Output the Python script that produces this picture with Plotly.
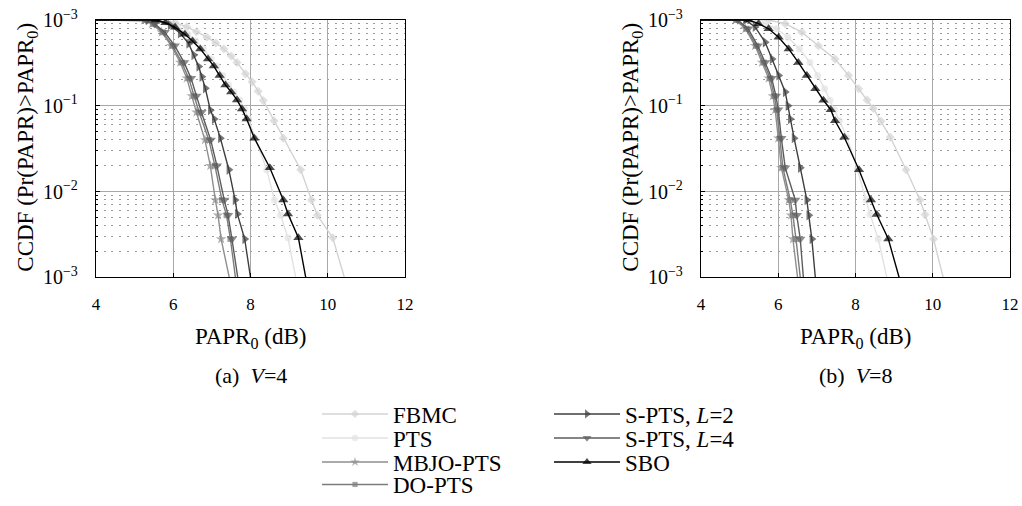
import plotly.graph_objects as go

# ---------------- data: CCDF of PAPR, V = 4 ----------------
v4_fbmc_x = [4, 5.75, 6.05, 6.35, 6.6, 6.87, 7.1, 7.31, 7.5, 7.65, 7.87, 8.04, 8.2, 8.33, 8.61, 8.85, 9.3, 9.58, 9.73, 10.13, 10.43]
v4_fbmc_y = [1, 1, 0.93, 0.83, 0.73, 0.63, 0.54, 0.46, 0.38, 0.32, 0.236, 0.19, 0.148, 0.115, 0.067, 0.042, 0.018, 0.008, 0.0053, 0.0029, 0.001]

v4_pts_x = [4, 5.6, 5.85, 6.12, 6.38, 6.58, 6.78, 6.98, 7.13, 7.28, 7.43, 7.57, 7.72, 7.84, 7.95, 8.12, 8.42, 8.62, 8.78, 8.97, 9.17]
v4_pts_y = [1, 1, 0.93, 0.82, 0.68, 0.57, 0.46, 0.35, 0.29, 0.225, 0.175, 0.145, 0.117, 0.092, 0.07, 0.042, 0.018, 0.008, 0.0053, 0.0029, 0.001]

v4_mbjo_x = [4, 5.25, 5.45, 5.7, 5.95, 6.18, 6.35, 6.48, 6.6, 6.82, 6.96, 7.09, 7.16, 7.24, 7.45]
v4_do_x = [4, 5.28, 5.48, 5.73, 5.98, 6.22, 6.4, 6.54, 6.67, 6.92, 7.08, 7.26, 7.38, 7.48, 7.61]
v4_spts4_x = [4, 5.3, 5.52, 5.78, 6.04, 6.28, 6.46, 6.6, 6.73, 6.97, 7.13, 7.32, 7.42, 7.52, 7.67]
v4_low_y = [1, 1, 0.9, 0.72, 0.5, 0.32, 0.21, 0.13, 0.084, 0.04, 0.02, 0.008, 0.0053, 0.0028, 0.001]

v4_spts2_x = [4, 5.35, 5.58, 5.92, 6.18, 6.40, 6.53, 6.66, 6.74, 6.83, 6.96, 7.06, 7.22, 7.44, 7.60, 7.66, 7.85, 8.0]
v4_spts2_y = [1, 1, 0.98, 0.87, 0.70, 0.53, 0.39, 0.286, 0.218, 0.16, 0.089, 0.07, 0.042, 0.018, 0.008, 0.0055, 0.0028, 0.001]

v4_sbo_x = [4, 5.55, 5.8, 6.05, 6.3, 6.5, 6.7, 6.9, 7.05, 7.2, 7.35, 7.5, 7.65, 7.78, 7.9, 8.1, 8.5, 8.85, 8.97, 9.24, 9.43]
v4_sbo_y = [1, 1, 0.93, 0.82, 0.68, 0.57, 0.46, 0.35, 0.29, 0.225, 0.175, 0.145, 0.117, 0.092, 0.07, 0.042, 0.019, 0.008, 0.0055, 0.0029, 0.001]

# ---------------- data: CCDF of PAPR, V = 8 ----------------
v8_fbmc_x = [4, 5.75, 6.18, 6.61, 7.04, 7.47, 7.82, 8.08, 8.3, 8.46, 8.66, 8.90, 9.31, 9.67, 9.80, 10.02, 10.27]
v8_fbmc_y = [1, 1, 0.905, 0.72, 0.5, 0.35, 0.226, 0.158, 0.117, 0.093, 0.066, 0.043, 0.018, 0.008, 0.0054, 0.0028, 0.001]

v8_pts_x = [4, 5.4, 5.68, 5.96, 6.25, 6.55, 6.82, 7.02, 7.2, 7.34, 7.45, 7.58, 7.78, 8.05, 8.28, 8.38, 8.59, 8.81]
v8_sbo_x = [4, 5.23, 5.49, 5.75, 6.01, 6.27, 6.52, 6.74, 6.96, 7.17, 7.36, 7.47, 7.71, 8.09, 8.40, 8.55, 8.85, 9.13]
v8_high_y = [1, 1, 0.905, 0.79, 0.63, 0.46, 0.32, 0.226, 0.158, 0.116, 0.09, 0.067, 0.043, 0.018, 0.008, 0.0054, 0.0028, 0.001]

v8_mbjo_x = [4, 4.89, 5.15, 5.40, 5.58, 5.75, 5.86, 5.92, 6.0, 6.08, 6.27, 6.33, 6.38, 6.50]
v8_do_x = [4, 4.92, 5.18, 5.43, 5.62, 5.79, 5.9, 5.96, 6.04, 6.12, 6.31, 6.38, 6.46, 6.57]
v8_spts4_x = [4, 4.95, 5.22, 5.47, 5.66, 5.83, 5.94, 6.0, 6.08, 6.18, 6.44, 6.48, 6.57, 6.65]
v8_low_y = [1, 1, 0.79, 0.5, 0.32, 0.21, 0.13, 0.09, 0.042, 0.019, 0.008, 0.0053, 0.0028, 0.001]

v8_spts2_x = [4, 5.15, 5.40, 5.66, 5.84, 6.01, 6.18, 6.25, 6.31, 6.41, 6.57, 6.74, 6.79, 6.87, 6.96]
v8_spts2_y = [1, 1, 0.83, 0.55, 0.35, 0.226, 0.145, 0.1, 0.07, 0.042, 0.019, 0.008, 0.0053, 0.0028, 0.001]

x_ticks = [4, 6, 8, 10, 12]
y_ticks = [1, 0.1, 0.01, 0.001]
y_tick_text = ["10<sup>−3</sup>", "10<sup>−1</sup>", "10<sup>−2</sup>", "10<sup>−3</sup>"]
y_minor = [m * d for d in (0.001, 0.01, 0.1) for m in range(2, 10)]

# ---------------- series styles (name, colour, symbol, size, legend slot) ----------------
series = [
    ("FBMC", "#d3d3d3", "diamond", 7, "legend"),
    ("PTS", "#e2e2e2", "circle", 7, "legend2"),
    ("MBJO-PTS", "#8e8e8e", "star", 8, "legend3"),
    ("DO-PTS", "#7c7c7c", "square", 6, "legend4"),
    ("S-PTS, <i>L</i>=2", "#3e3e3e", "triangle-right", 9, "legend5"),
    ("S-PTS, <i>L</i>=4", "#5c5c5c", "triangle-down", 9, "legend6"),
    ("SBO", "#000000", "triangle-up", 9, "legend7"),
]
# legend slot positions in px (left edge of the slot, row centre)
legend_pos = {
    "legend": (317, 414), "legend2": (317, 438), "legend3": (317, 462), "legend4": (317, 485),
    "legend5": (549, 414), "legend6": (549, 438), "legend7": (549, 462),
}

panels = [
    ("x", "y", [
        (v4_fbmc_x, v4_fbmc_y), (v4_pts_x, v4_pts_y), (v4_mbjo_x, v4_low_y), (v4_do_x, v4_low_y),
        (v4_spts2_x, v4_spts2_y), (v4_spts4_x, v4_low_y), (v4_sbo_x, v4_sbo_y)]),
    ("x2", "y2", [
        (v8_fbmc_x, v8_fbmc_y), (v8_pts_x, v8_high_y), (v8_mbjo_x, v8_low_y), (v8_do_x, v8_low_y),
        (v8_spts2_x, v8_spts2_y), (v8_spts4_x, v8_low_y), (v8_sbo_x, v8_high_y)]),
]

FONT = "Liberation Serif, DejaVu Serif, serif"

fig = go.Figure()
for p, (xa, ya, curves) in enumerate(panels):
    for (name, color, symbol, size, lg), (xs, ys) in zip(series, curves):
        # no marker on the flat lead-in point and on the last (bottom edge) point
        sizes = [0] + [size] * (len(xs) - 2) + [0]
        fig.add_trace(go.Scatter(
            x=xs, y=ys, mode="lines+markers", name=name,
            line=dict(color=color, width=1.4),
            marker=dict(symbol=symbol, size=sizes, color=color, line=dict(width=0)),
            xaxis=xa, yaxis=ya, legend=lg, showlegend=(p == 0),
        ))

W, H = 1022, 506
plot_top, plot_bot = 20, 278
doms = [(96, 405), (701, 1010)]

axis_common = dict(
    showline=True, linecolor="black", linewidth=1.3, mirror=True,
    ticks="inside", ticklen=4, tickcolor="black",
    showgrid=True, gridcolor="#a8a8a8", gridwidth=1.2,
    zeroline=False, automargin=False,
)

for i, (l, r) in enumerate(doms):
    sx = "" if i == 0 else "2"
    fig.update_layout(**{
        f"xaxis{sx}": dict(
            axis_common, domain=[l / W, r / W], range=[4, 12], tickvals=x_ticks,
            tickfont=dict(family=FONT, size=17, color="black"),
            anchor=f"y{sx}", ticklabelstandoff=11,
        ),
        f"yaxis{sx}": dict(
            axis_common, type="log", domain=[1 - plot_bot / H, 1 - plot_top / H], range=[-3, 0],
            tickvals=y_ticks, ticktext=y_tick_text,
            tickfont=dict(family=FONT, size=20, color="black"),
            anchor=f"x{sx}", ticklabelstandoff=13,
            minor=dict(tickvals=y_minor, showgrid=True, gridcolor="#9a9a9a",
                       griddash="2px,5.7px", gridwidth=1, ticks="inside", ticklen=2, tickcolor="black"),
        ),
    })

annotations = []
for (l, r), cap in zip(doms, ["(a)  <i>V</i>=4", "(b)  <i>V</i>=8"]):
    cx = (l + r) / 2 / W
    common = dict(xref="paper", yref="paper", showarrow=False, xanchor="center", yanchor="middle")
    annotations.append(dict(common, text="PAPR<sub>0</sub> (dB)", x=cx, y=1 - 339 / H,
                            font=dict(family=FONT, size=23, color="black")))
    annotations.append(dict(common, text=cap, x=cx, y=1 - 376 / H,
                            font=dict(family=FONT, size=22, color="black")))
    annotations.append(dict(common, text="CCDF (Pr(PAPR)>PAPR<sub>0</sub>)", x=(l - 69) / W, y=1 - 148 / H,
                            textangle=-90, font=dict(family=FONT, size=23, color="black")))

layout_legends = {}
for key, (lx, ly) in legend_pos.items():
    layout_legends[key] = dict(
        x=lx / W, y=1 - ly / H, xanchor="left", yanchor="middle",
        bgcolor="rgba(0,0,0,0)", borderwidth=0,
        font=dict(family=FONT, size=23, color="black"), itemwidth=66,
    )

fig.update_layout(
    width=W, height=H, margin=dict(l=0, r=0, t=0, b=0),
    paper_bgcolor="white", plot_bgcolor="white",
    annotations=annotations, **layout_legends,
)

fig.write_html("out.html")
